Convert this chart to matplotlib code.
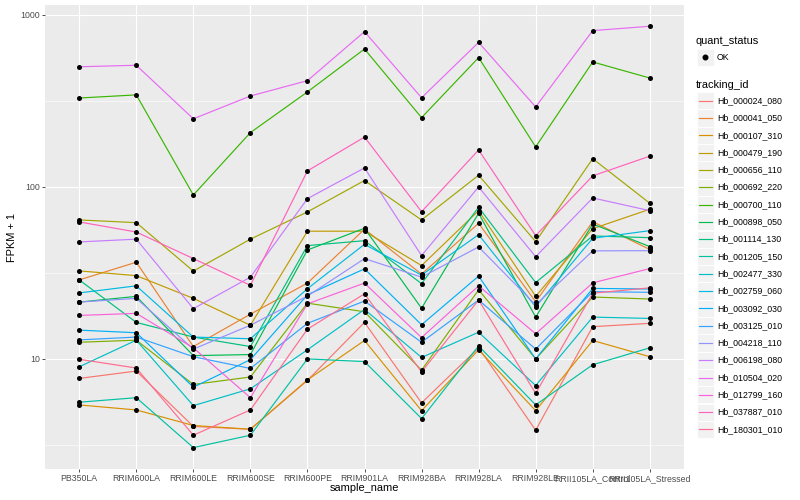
"""FPKM + 1 per sample for 20 tracking ids, ggplot-style line chart on a log axis."""

import numpy as np
import matplotlib
matplotlib.use("Agg")
import matplotlib.pyplot as plt
from matplotlib.patches import Rectangle
from matplotlib.ticker import FixedLocator, NullFormatter

plt.rcParams["font.family"] = ["Liberation Sans", "DejaVu Sans"]

samples = ["PB350LA", "RRIM600LA", "RRIM600LE", "RRIM600SE", "RRIM600PE",
           "RRIM901LA", "RRIM928BA", "RRIM928LA", "RRIM928LE",
           "RRII105LA_Control", "RRII105LA_Stressed"]

tracking_ids = ["Hb_000024_080", "Hb_000041_050", "Hb_000107_310", "Hb_000479_190",
                "Hb_000656_110", "Hb_000692_220", "Hb_000700_110", "Hb_000898_050",
                "Hb_001114_130", "Hb_001205_150", "Hb_002477_330", "Hb_002759_060",
                "Hb_003092_030", "Hb_003125_010", "Hb_004218_110", "Hb_006198_080",
                "Hb_010504_020", "Hb_012799_160", "Hb_037887_010", "Hb_180301_010"]

# FPKM + 1, one list per tracking id, in sample order
hb_000024_080 = [7.7, 8.5, 4.05, 3.9, 7.5, 16.3, 5.55, 11.6, 3.85, 15.4, 16.1]
hb_000041_050 = [28.8, 36.5, 11.8, 18.2, 27.6, 56.8, 31.1, 61.5, 21.5, 62.8, 43.3]
hb_000107_310 = [5.4, 5.05, 4.1, 3.9, 7.55, 12.8, 5.0, 11.3, 5.0, 12.8, 10.3]
hb_000479_190 = [32.5, 30.5, 22.5, 15.7, 55.3, 55.3, 34.9, 72.8, 23.1, 57.2, 74.2]
hb_000656_110 = [64.3, 62.0, 32.4, 49.7, 71.6, 109, 64.3, 117, 48.1, 146, 80.4]
hb_000692_220 = [12.5, 12.85, 7.1, 7.85, 21.1, 18.8, 8.6, 25.2, 10.0, 22.9, 22.3]
hb_000700_110 = [329, 343, 89.8, 207, 357, 634, 253, 565, 171, 533, 430]
hb_000898_050 = [21.4, 23.1, 10.45, 10.6, 43.0, 57.5, 19.7, 70.3, 17.5, 60.9, 45.0]
hb_001114_130 = [28.8, 16.3, 13.4, 11.8, 45.6, 48.7, 27.4, 76.2, 27.8, 51.9, 50.7]
hb_001205_150 = [5.6, 5.95, 3.05, 3.6, 10.0, 9.65, 4.5, 11.9, 5.4, 9.25, 11.6]
hb_002477_330 = [9.0, 12.85, 5.35, 6.7, 11.3, 19.4, 10.2, 14.3, 7.0, 17.5, 17.2]
hb_002759_060 = [24.2, 26.6, 13.4, 13.1, 25.6, 46.4, 30.7, 52.8, 20.1, 50.3, 55.7]
hb_003092_030 = [14.7, 14.2, 6.85, 9.9, 23.6, 33.4, 15.8, 30.3, 10.0, 25.7, 25.5]
hb_003125_010 = [12.9, 13.4, 10.3, 8.8, 16.1, 21.7, 12.5, 22.0, 11.4, 24.6, 24.4]
hb_004218_110 = [21.4, 22.5, 11.4, 15.7, 23.2, 38.3, 29.9, 44.8, 20.6, 42.5, 42.6]
hb_006198_080 = [47.9, 49.7, 19.6, 29.9, 85.5, 129, 39.9, 100, 39.3, 86.3, 72.8]
hb_010504_020 = [500, 510, 249, 338, 415, 800, 330, 693, 292, 811, 860]
hb_012799_160 = [17.9, 18.4, 11.6, 5.95, 20.9, 27.6, 13.3, 26.6, 14.0, 27.7, 33.5]
hb_037887_010 = [62.6, 54.7, 38.3, 26.8, 124, 195, 71.8, 164, 52.1, 116, 151]
hb_180301_010 = [9.95, 8.85, 3.6, 5.05, 14.9, 23.9, 8.4, 22.0, 6.3, 24.1, 25.9]

series = [hb_000024_080, hb_000041_050, hb_000107_310, hb_000479_190,
          hb_000656_110, hb_000692_220, hb_000700_110, hb_000898_050,
          hb_001114_130, hb_001205_150, hb_002477_330, hb_002759_060,
          hb_003092_030, hb_003125_010, hb_004218_110, hb_006198_080,
          hb_010504_020, hb_012799_160, hb_037887_010, hb_180301_010]

# ggplot2 default hue palette for 20 levels
colors = ["#F8766D", "#EA8331", "#D89000", "#C09B00", "#A3A500", "#7CAE00",
          "#39B600", "#00BB4E", "#00BF7D", "#00C1A3", "#00BFC4", "#00BAE0",
          "#00B0F6", "#35A2FF", "#9590FF", "#C77CFF", "#E76BF3", "#FA62DB",
          "#FF62BC", "#FF6C91"]

W, H = 800, 500
fig = plt.figure(figsize=(W / 100, H / 100), dpi=100)
fig.patch.set_facecolor("white")

# panel: x 45..684 px, y 5..469 px
ax = fig.add_axes([45 / W, 1 - 469 / H, (684 - 45) / W, (469 - 5) / H])
ax.set_facecolor("#EBEBEB")
for side in ax.spines.values():
    side.set_visible(False)

x = np.arange(len(samples))
for vals, col in zip(series, colors):
    ax.plot(x, vals, color=col, lw=0.85, zorder=2, solid_capstyle="butt")
for vals in series:
    ax.scatter(x, vals, s=13, color="black", linewidths=0, zorder=3)

ax.set_yscale("log")
ax.set_ylim(2.29, 1143)
ax.set_xlim(-0.6, len(samples) - 0.4)

ax.yaxis.set_major_locator(FixedLocator([10, 100, 1000]))
ax.yaxis.set_minor_locator(FixedLocator([10 ** 0.5, 10 ** 1.5, 10 ** 2.5]))
ax.yaxis.set_minor_formatter(NullFormatter())
ax.set_yticklabels(["10", "100", "1000"])
ax.set_xticks(x)
ax.set_xticklabels(samples)

ax.grid(which="major", color="white", lw=0.8)
ax.grid(which="minor", axis="y", color="white", lw=0.4)
ax.set_axisbelow(True)
ax.tick_params(which="major", length=2, width=0.6, color="#333333",
               labelcolor="#4D4D4D", labelsize=6.3, pad=1.6)
ax.tick_params(which="minor", length=0)

fig.text(364.5 / W, 1 - 488 / H, "sample_name", fontsize=7.9,
         ha="center", va="center")
fig.text(12 / W, 1 - 237 / H, "FPKM + 1", fontsize=7.9, rotation=90,
         ha="center", va="center")

# legends, drawn in pixel coordinates of the figure
lax = fig.add_axes([0, 0, 1, 1])
lax.set_xlim(0, W)
lax.set_ylim(H, 0)
lax.axis("off")

lax.text(696, 40.5, "quant_status", fontsize=7.9, ha="left", va="center")
lax.add_patch(Rectangle((697, 48.5), 16.5, 17, fc="#F2F2F2", ec="white", lw=0.6))
lax.plot([705], [57], "o", color="black", ms=3.3)
lax.text(717, 57, "OK", fontsize=6.3, ha="left", va="center")

lax.text(696, 85, "tracking_id", fontsize=7.9, ha="left", va="center")
for i, (tid, col) in enumerate(zip(tracking_ids, colors)):
    yc = 100.7 + i * 17.3
    lax.add_patch(Rectangle((697, yc - 8.6), 16.5, 17.2, fc="#F2F2F2",
                            ec="white", lw=0.6))
    lax.plot([698.5, 711.5], [yc, yc], color=col, lw=0.85)
    lax.text(717, yc, tid, fontsize=6.3, ha="left", va="center")

fig.savefig("out.png", dpi=100)
plt.close(fig)
